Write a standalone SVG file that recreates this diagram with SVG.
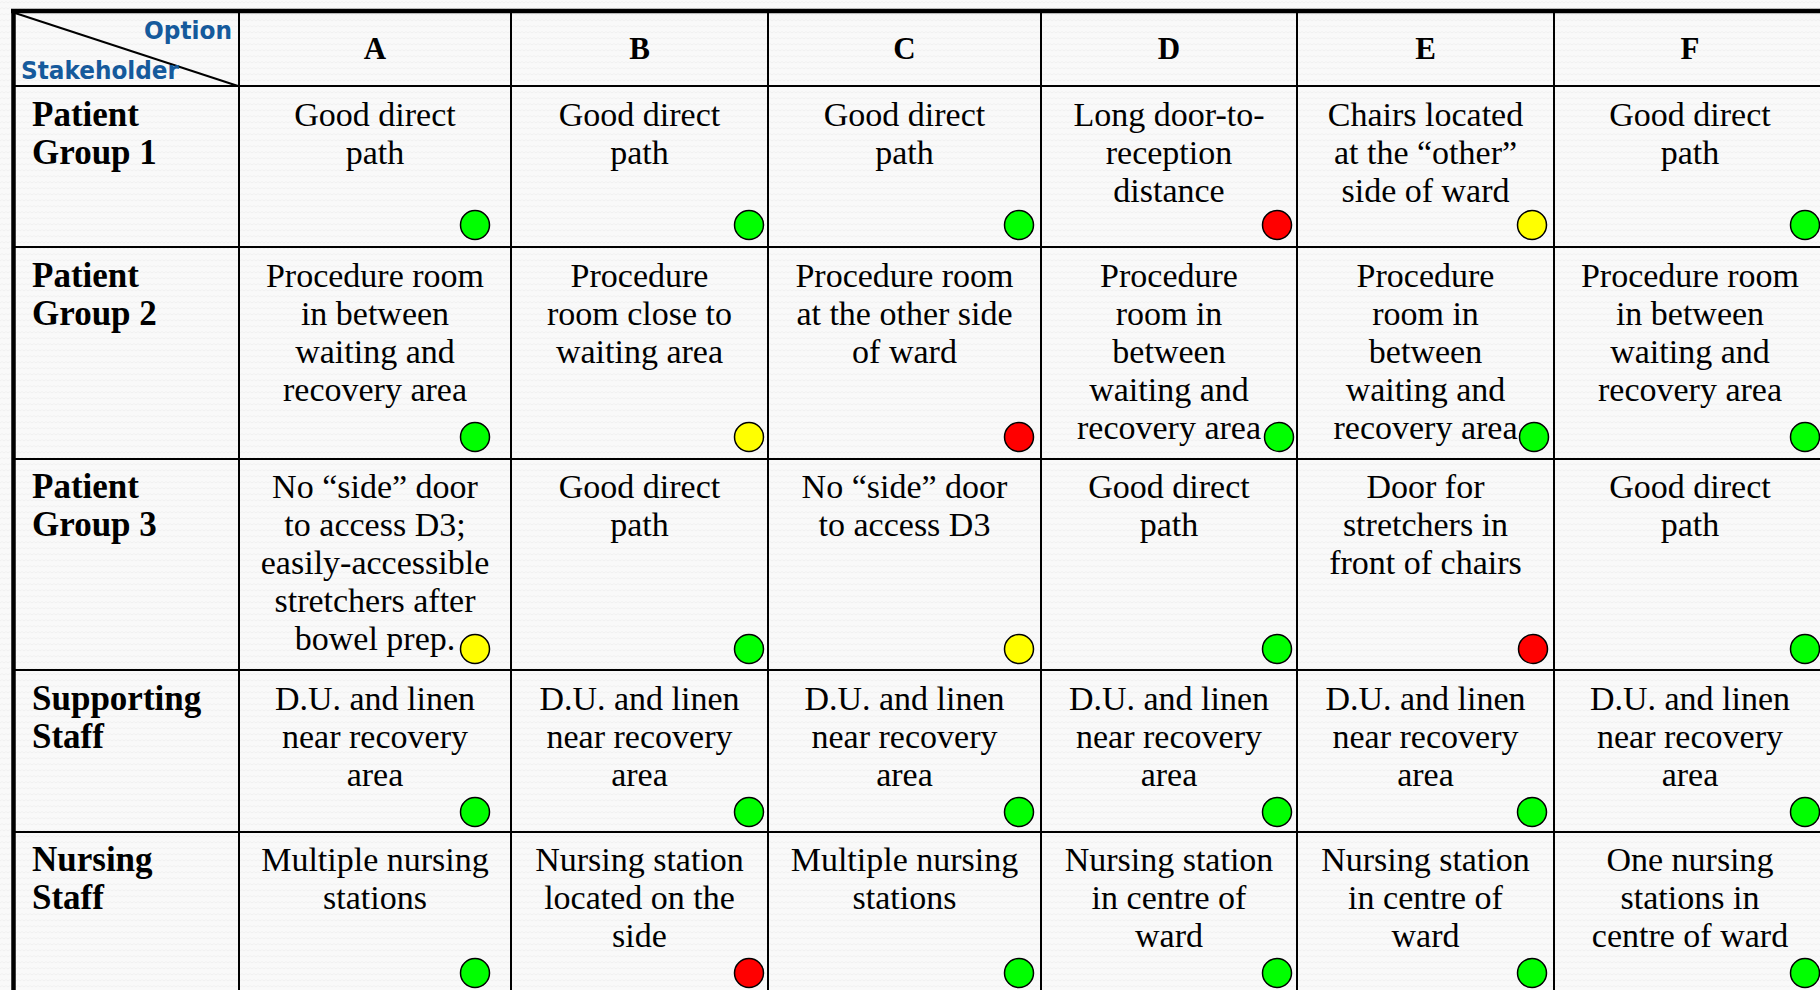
<svg xmlns="http://www.w3.org/2000/svg" width="1820" height="990" viewBox="0 0 1820 990">
<defs>
<pattern id="tex" width="8" height="6" patternUnits="userSpaceOnUse">
<rect width="8" height="6" fill="#f9f9f9"/>
<polyline points="0,3 2,1.5 4,3 6,1.5 8,3" fill="none" stroke="#ececec" stroke-width="0.7"/>
</pattern>
<style>
.cell{font-family:"Liberation Serif","Times New Roman",serif;font-size:34px;text-anchor:middle;fill:#000}
.lab{font-family:"Liberation Serif","Times New Roman",serif;font-size:35px;font-weight:bold;fill:#000}
.hdr{font-family:"Liberation Serif","Times New Roman",serif;font-size:31px;font-weight:bold;text-anchor:middle;fill:#000}
.corner{font-family:"DejaVu Sans","Verdana",sans-serif;font-size:24px;font-weight:bold;fill:#155a9c}
.ln{stroke:#000;stroke-width:2;fill:none}
.thick{stroke:#000;stroke-width:4.5;fill:none}
.dot{stroke:#000;stroke-width:1.5}
.g{fill:#00ff00}
.y{fill:#ffff00}
.r{fill:#ff0000}
</style>
</defs>
<rect width="1820" height="990" fill="url(#tex)"/>

<g id="grid">
<line class="ln" x1="239" y1="11" x2="239" y2="995"/>
<line class="ln" x1="511" y1="11" x2="511" y2="995"/>
<line class="ln" x1="768" y1="11" x2="768" y2="995"/>
<line class="ln" x1="1041" y1="11" x2="1041" y2="995"/>
<line class="ln" x1="1297" y1="11" x2="1297" y2="995"/>
<line class="ln" x1="1554" y1="11" x2="1554" y2="995"/>
<line class="ln" x1="13" y1="86" x2="1820" y2="86"/>
<line class="ln" x1="13" y1="247" x2="1820" y2="247"/>
<line class="ln" x1="13" y1="459" x2="1820" y2="459"/>
<line class="ln" x1="13" y1="670" x2="1820" y2="670"/>
<line class="ln" x1="13" y1="832" x2="1820" y2="832"/>
<line class="thick" x1="11" y1="11" x2="1820" y2="11"/>
<line class="thick" x1="13.5" y1="9" x2="13.5" y2="995"/>
</g>

<g id="connectors"></g>

<g id="corner">
<line x1="15" y1="13" x2="238" y2="86" stroke="#000" stroke-width="2"/>
<text class="corner" x="232" y="39" text-anchor="end" textLength="88" lengthAdjust="spacingAndGlyphs">Option</text>
<text class="corner" x="21" y="79" textLength="158" lengthAdjust="spacingAndGlyphs">Stakeholder</text>
</g>

<g id="header">
<text class="hdr" x="375" y="59">A</text>
<text class="hdr" x="639.5" y="59">B</text>
<text class="hdr" x="904.5" y="59">C</text>
<text class="hdr" x="1169" y="59">D</text>
<text class="hdr" x="1425.5" y="59">E</text>
<text class="hdr" x="1690" y="59">F</text>
</g>

<g id="row-labels">
<text class="lab" x="32" y="126"><tspan x="32">Patient</tspan><tspan x="32" dy="38">Group 1</tspan></text>
<text class="lab" x="32" y="287"><tspan x="32">Patient</tspan><tspan x="32" dy="38">Group 2</tspan></text>
<text class="lab" x="32" y="498"><tspan x="32">Patient</tspan><tspan x="32" dy="38">Group 3</tspan></text>
<text class="lab" x="32" y="710"><tspan x="32">Supporting</tspan><tspan x="32" dy="38">Staff</tspan></text>
<text class="lab" x="32" y="871"><tspan x="32">Nursing</tspan><tspan x="32" dy="38">Staff</tspan></text>
</g>

<!-- Row 1 -->
<g id="r1-A"><text class="cell" y="126"><tspan x="375">Good direct</tspan><tspan x="375" dy="38">path</tspan></text><circle class="dot g" cx="475" cy="225" r="14.5"/></g>
<g id="r1-B"><text class="cell" y="126"><tspan x="639.5">Good direct</tspan><tspan x="639.5" dy="38">path</tspan></text><circle class="dot g" cx="749" cy="225" r="14.5"/></g>
<g id="r1-C"><text class="cell" y="126"><tspan x="904.5">Good direct</tspan><tspan x="904.5" dy="38">path</tspan></text><circle class="dot g" cx="1019" cy="225" r="14.5"/></g>
<g id="r1-D"><text class="cell" y="126"><tspan x="1169">Long door-to-</tspan><tspan x="1169" dy="38">reception</tspan><tspan x="1169" dy="38">distance</tspan></text><circle class="dot r" cx="1277" cy="225" r="14.5"/></g>
<g id="r1-E"><text class="cell" y="126"><tspan x="1425.5">Chairs located</tspan><tspan x="1425.5" dy="38">at the “other”</tspan><tspan x="1425.5" dy="38">side of ward</tspan></text><circle class="dot y" cx="1532" cy="225" r="14.5"/></g>
<g id="r1-F"><text class="cell" y="126"><tspan x="1690">Good direct</tspan><tspan x="1690" dy="38">path</tspan></text><circle class="dot g" cx="1805" cy="225" r="14.5"/></g>

<!-- Row 2 -->
<g id="r2-A"><text class="cell" y="287"><tspan x="375">Procedure room</tspan><tspan x="375" dy="38">in between</tspan><tspan x="375" dy="38">waiting and</tspan><tspan x="375" dy="38">recovery area</tspan></text><circle class="dot g" cx="475" cy="437" r="14.5"/></g>
<g id="r2-B"><text class="cell" y="287"><tspan x="639.5">Procedure</tspan><tspan x="639.5" dy="38">room close to</tspan><tspan x="639.5" dy="38">waiting area</tspan></text><circle class="dot y" cx="749" cy="437" r="14.5"/></g>
<g id="r2-C"><text class="cell" y="287"><tspan x="904.5">Procedure room</tspan><tspan x="904.5" dy="38">at the other side</tspan><tspan x="904.5" dy="38">of ward</tspan></text><circle class="dot r" cx="1019" cy="437" r="14.5"/></g>
<g id="r2-D"><text class="cell" y="287"><tspan x="1169">Procedure</tspan><tspan x="1169" dy="38">room in</tspan><tspan x="1169" dy="38">between</tspan><tspan x="1169" dy="38">waiting and</tspan><tspan x="1169" dy="38">recovery area</tspan></text><circle class="dot g" cx="1279" cy="437" r="14.5"/></g>
<g id="r2-E"><text class="cell" y="287"><tspan x="1425.5">Procedure</tspan><tspan x="1425.5" dy="38">room in</tspan><tspan x="1425.5" dy="38">between</tspan><tspan x="1425.5" dy="38">waiting and</tspan><tspan x="1425.5" dy="38">recovery area</tspan></text><circle class="dot g" cx="1534" cy="437" r="14.5"/></g>
<g id="r2-F"><text class="cell" y="287"><tspan x="1690">Procedure room</tspan><tspan x="1690" dy="38">in between</tspan><tspan x="1690" dy="38">waiting and</tspan><tspan x="1690" dy="38">recovery area</tspan></text><circle class="dot g" cx="1805" cy="437" r="14.5"/></g>

<!-- Row 3 -->
<g id="r3-A"><text class="cell" y="498"><tspan x="375">No “side” door</tspan><tspan x="375" dy="38">to access D3;</tspan><tspan x="375" dy="38">easily-accessible</tspan><tspan x="375" dy="38">stretchers after</tspan><tspan x="375" dy="38">bowel prep.</tspan></text><circle class="dot y" cx="475" cy="649" r="14.5"/></g>
<g id="r3-B"><text class="cell" y="498"><tspan x="639.5">Good direct</tspan><tspan x="639.5" dy="38">path</tspan></text><circle class="dot g" cx="749" cy="649" r="14.5"/></g>
<g id="r3-C"><text class="cell" y="498"><tspan x="904.5">No “side” door</tspan><tspan x="904.5" dy="38">to access D3</tspan></text><circle class="dot y" cx="1019" cy="649" r="14.5"/></g>
<g id="r3-D"><text class="cell" y="498"><tspan x="1169">Good direct</tspan><tspan x="1169" dy="38">path</tspan></text><circle class="dot g" cx="1277" cy="649" r="14.5"/></g>
<g id="r3-E"><text class="cell" y="498"><tspan x="1425.5">Door for</tspan><tspan x="1425.5" dy="38">stretchers in</tspan><tspan x="1425.5" dy="38">front of chairs</tspan></text><circle class="dot r" cx="1533" cy="649" r="14.5"/></g>
<g id="r3-F"><text class="cell" y="498"><tspan x="1690">Good direct</tspan><tspan x="1690" dy="38">path</tspan></text><circle class="dot g" cx="1805" cy="649" r="14.5"/></g>

<!-- Row 4 -->
<g id="r4-A"><text class="cell" y="710"><tspan x="375">D.U. and linen</tspan><tspan x="375" dy="38">near recovery</tspan><tspan x="375" dy="38">area</tspan></text><circle class="dot g" cx="475" cy="812" r="14.5"/></g>
<g id="r4-B"><text class="cell" y="710"><tspan x="639.5">D.U. and linen</tspan><tspan x="639.5" dy="38">near recovery</tspan><tspan x="639.5" dy="38">area</tspan></text><circle class="dot g" cx="749" cy="812" r="14.5"/></g>
<g id="r4-C"><text class="cell" y="710"><tspan x="904.5">D.U. and linen</tspan><tspan x="904.5" dy="38">near recovery</tspan><tspan x="904.5" dy="38">area</tspan></text><circle class="dot g" cx="1019" cy="812" r="14.5"/></g>
<g id="r4-D"><text class="cell" y="710"><tspan x="1169">D.U. and linen</tspan><tspan x="1169" dy="38">near recovery</tspan><tspan x="1169" dy="38">area</tspan></text><circle class="dot g" cx="1277" cy="812" r="14.5"/></g>
<g id="r4-E"><text class="cell" y="710"><tspan x="1425.5">D.U. and linen</tspan><tspan x="1425.5" dy="38">near recovery</tspan><tspan x="1425.5" dy="38">area</tspan></text><circle class="dot g" cx="1532" cy="812" r="14.5"/></g>
<g id="r4-F"><text class="cell" y="710"><tspan x="1690">D.U. and linen</tspan><tspan x="1690" dy="38">near recovery</tspan><tspan x="1690" dy="38">area</tspan></text><circle class="dot g" cx="1805" cy="812" r="14.5"/></g>

<!-- Row 5 -->
<g id="r5-A"><text class="cell" y="871"><tspan x="375">Multiple nursing</tspan><tspan x="375" dy="38">stations</tspan></text><circle class="dot g" cx="475" cy="973" r="14.5"/></g>
<g id="r5-B"><text class="cell" y="871"><tspan x="639.5">Nursing station</tspan><tspan x="639.5" dy="38">located on the</tspan><tspan x="639.5" dy="38">side</tspan></text><circle class="dot r" cx="749" cy="973" r="14.5"/></g>
<g id="r5-C"><text class="cell" y="871"><tspan x="904.5">Multiple nursing</tspan><tspan x="904.5" dy="38">stations</tspan></text><circle class="dot g" cx="1019" cy="973" r="14.5"/></g>
<g id="r5-D"><text class="cell" y="871"><tspan x="1169">Nursing station</tspan><tspan x="1169" dy="38">in centre of</tspan><tspan x="1169" dy="38">ward</tspan></text><circle class="dot g" cx="1277" cy="973" r="14.5"/></g>
<g id="r5-E"><text class="cell" y="871"><tspan x="1425.5">Nursing station</tspan><tspan x="1425.5" dy="38">in centre of</tspan><tspan x="1425.5" dy="38">ward</tspan></text><circle class="dot g" cx="1532" cy="973" r="14.5"/></g>
<g id="r5-F"><text class="cell" y="871"><tspan x="1690">One nursing</tspan><tspan x="1690" dy="38">stations in</tspan><tspan x="1690" dy="38">centre of ward</tspan></text><circle class="dot g" cx="1805" cy="973" r="14.5"/></g>
</svg>
